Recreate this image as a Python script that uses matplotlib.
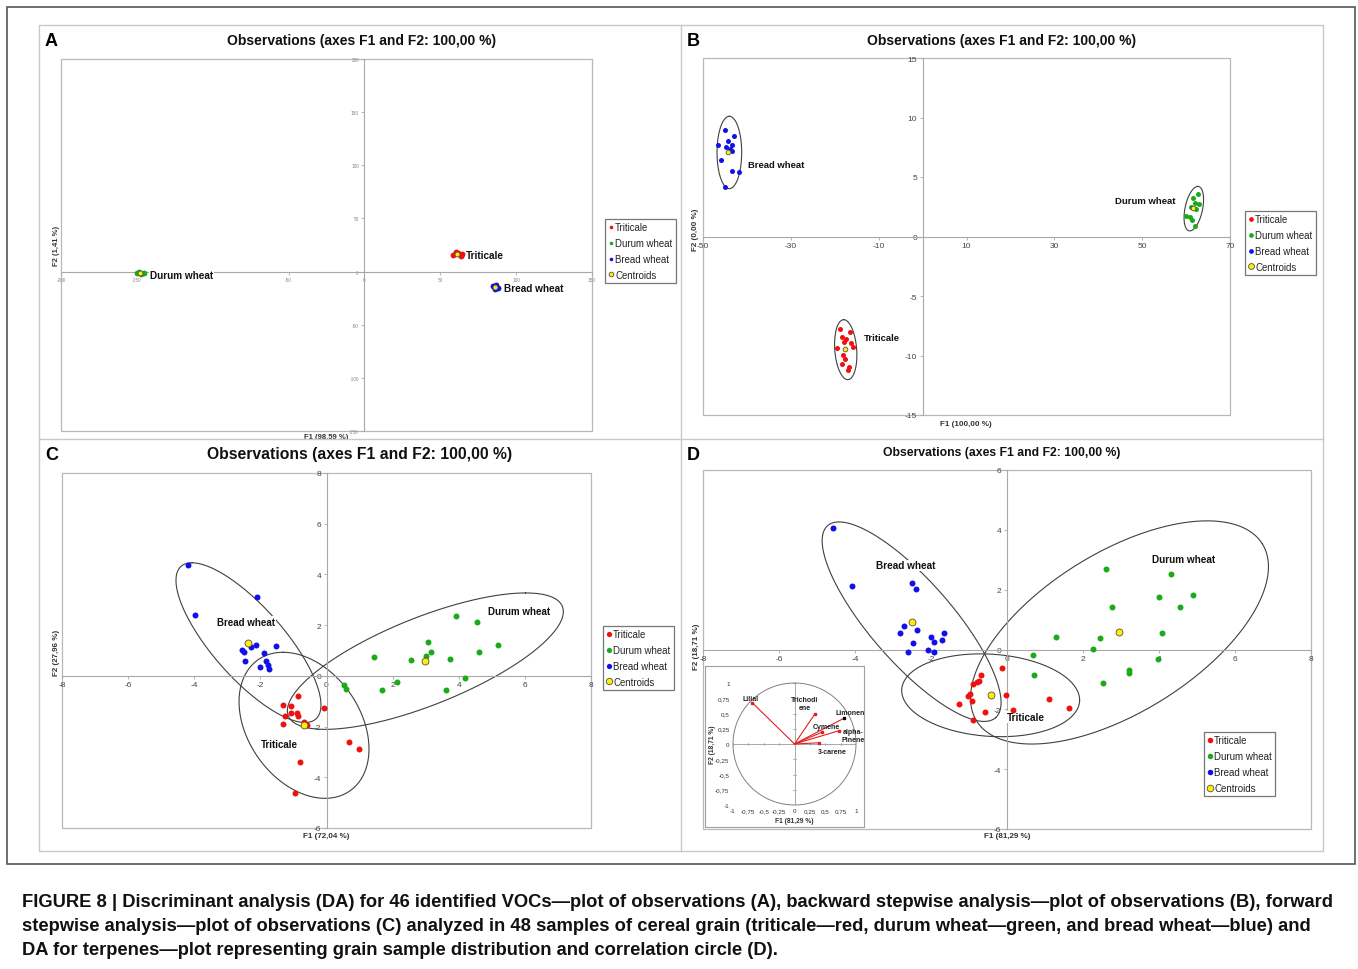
import numpy as np
import matplotlib
matplotlib.use('Agg')
import matplotlib.pyplot as plt
from matplotlib.patches import Rectangle, Circle
from matplotlib.lines import Line2D

plt.rcParams['font.family'] = ['Liberation Sans', 'DejaVu Sans']
plt.rcParams['axes.unicode_minus'] = False

## ---------------- data ----------------
groups = ['Triticale', 'Durum wheat', 'Bread wheat', 'Centroids']

# panel A (all 46 VOCs)
a_tri_x = [58.5, 60.5, 63.5, 62.0, 64.0]
a_tri_y = [16.0, 18.0, 15.0, 17.5, 16.5]
a_dur_x = [-150.0, -148.5, -145.5, -147.0]
a_dur_y = [-1.0, -0.5, -1.5, -2.0]
a_bre_x = [84.5, 86.5, 88.0, 86.0]
a_bre_y = [-14.0, -12.5, -15.0, -16.5]
a_cen_x = [61.3, -147.7, 86.3]
a_cen_y = [16.5, -1.2, -14.6]
a_xtick_labels = ['-200', '-150', '', '-50', '0', '50', '100', '150']   # -100 hidden under a label

# panel B (backward stepwise)
b_tri_x = [-18.7, -16.5, -18.3, -17.4, -18.0, -16.4, -15.9, -19.5, -18.1, -17.7, -18.4, -16.7, -17.0]
b_tri_y = [-7.78, -8.06, -8.48, -8.62, -8.90, -8.98, -9.32, -9.40, -9.96, -10.33, -10.72, -11.0, -11.2]
b_dur_x = [62.6, 61.6, 62.0, 62.9, 61.2, 62.3, 59.9, 60.9, 61.4, 62.0]
b_dur_y = [3.55, 3.27, 2.83, 2.77, 2.49, 2.35, 1.71, 1.60, 1.37, 0.87]
b_bre_x = [-44.9, -43.0, -46.5, -44.2, -43.4, -44.7, -43.9, -43.4, -45.9, -43.3, -41.8, -45.1]
b_bre_y = [8.98, 8.42, 7.72, 8.0, 7.72, 7.53, 7.39, 7.19, 6.41, 5.51, 5.43, 4.17]
b_cen_x = [-17.6, 61.6, -44.2]
b_cen_y = [-9.49, 2.41, 7.1]

# panel C (forward stepwise)
c_tri_x = [-0.86, -0.07, -1.31, -1.06, -1.06, -0.90, -1.25, -0.86, -0.68, -0.58, -1.32, 0.67, 0.99, -0.81, -0.96]
c_tri_y = [-0.80, -1.26, -1.13, -1.20, -1.46, -1.45, -1.59, -1.58, -1.81, -1.95, -1.91, -2.60, -2.89, -3.39, -4.60]
c_dur_x = [3.91, 4.56, 3.08, 5.18, 3.15, 3.02, 4.61, 1.44, 2.57, 3.75, 4.19, 2.12, 0.52, 0.58, 1.69, 3.60]
c_dur_y = [2.35, 2.12, 1.33, 1.22, 0.95, 0.79, 0.93, 0.74, 0.63, 0.68, -0.09, -0.24, -0.38, -0.53, -0.57, -0.57]
c_bre_x = [-4.19, -2.10, -3.98, -2.57, -2.50, -2.28, -2.13, -1.52, -1.89, -2.48, -1.83, -1.76, -2.01, -1.74]
c_bre_y = [4.36, 3.12, 2.39, 1.01, 0.95, 1.14, 1.21, 1.18, 0.91, 0.58, 0.58, 0.42, 0.34, 0.29]
c_cen_x = [-0.68, 2.99, -2.36]
c_cen_y = [-1.95, 0.58, 1.31]

# panel D (terpenes)
d_tri_x = [-0.68, -0.14, -0.89, -0.78, -0.73, -0.97, -1.02, -0.93, -1.26, -0.58, -0.89, -0.03, 0.17, 1.11, 1.63]
d_tri_y = [-0.85, -0.62, -1.15, -1.07, -1.05, -1.48, -1.56, -1.73, -1.81, -2.09, -2.35, -1.53, -2.03, -1.66, -1.95]
d_dur_x = [2.61, 4.31, 4.89, 4.00, 2.77, 4.54, 4.07, 1.30, 2.44, 2.27, 0.69, 3.98, 0.71, 3.20, 3.21, 2.52]
d_dur_y = [2.70, 2.54, 1.81, 1.75, 1.42, 1.43, 0.55, 0.43, 0.38, 0.02, -0.20, -0.31, -0.84, -0.69, -0.78, -1.11]
d_bre_x = [-4.59, -4.09, -2.51, -2.39, -2.71, -2.82, -2.36, -2.01, -1.65, -1.72, -1.91, -2.48, -2.60, -2.07, -1.91]
d_bre_y = [4.07, 2.12, 2.23, 2.03, 0.78, 0.54, 0.64, 0.41, 0.56, 0.33, 0.25, 0.22, -0.08, -0.02, -0.08]
d_cen_x = [-0.43, 2.96, -2.51]
d_cen_y = [-1.53, 0.57, 0.93]

# confidence ellipses: centre, two conjugate semi-diameters (data units)
b_ell = [((-17.5, -9.51), (-0.46, 2.52), (2.5, 0.0)),
         ((61.76, 2.34), (0.91, 1.87), (2.03, 0.0)),
         ((-44.0, 7.06), (0.0, 3.04), (2.81, 0.0))]
c_ell = [((-0.68, -1.95), (-0.635, 2.88), (1.86, 0.0)),
         ((2.99, 0.58), (3.03, 2.69), (2.87, 0.0)),
         ((-2.36, 1.31), (-1.71, 3.15), (1.373, 0.0))]
d_ell = [((-0.43, -1.53), (2.34, -0.2), (0.072, 1.37)),
         ((2.96, 0.57), (3.76, 2.96), (1.11, -2.27)),
         ((-2.51, 0.93), (2.21, -3.21), (0.811, 0.902))]

# correlation circle (panel D inset)
var_names = ['Lilial', 'Trichodi\nene', 'Limonen', 'Cymene', 'alpha-\nPinene', '3-carene']
var_f1 = [-0.69, 0.33, 0.80, 0.44, 0.73, 0.40]
var_f2 = [0.68, 0.49, 0.42, 0.19, 0.22, 0.02]
var_lab_x = [-0.72, 0.16, 0.90, 0.52, 0.95, 0.62]
var_lab_y = [0.74, 0.66, 0.52, 0.29, 0.14, -0.13]

caption = ["FIGURE 8 | Discriminant analysis (DA) for 46 identified VOCs\u2014plot of observations (A), backward stepwise analysis\u2014plot of observations (B), forward",
           "stepwise analysis\u2014plot of observations (C) analyzed in 48 samples of cereal grain (triticale\u2014red, durum wheat\u2014green, and bread wheat\u2014blue) and",
           "DA for terpenes\u2014plot representing grain sample distribution and correlation circle (D)."]

## ---------------- drawing ----------------
RED, GREEN, BLUE, YEL = '#f01010', '#1aaa1a', '#1010e8', '#ffee00'
W, H = 1358, 970
fig = plt.figure(figsize=(W / 100, H / 100), dpi=100)

def fbox(x0, y0, x1, y1):
    return [x0 / W, 1 - y1 / H, (x1 - x0) / W, (y1 - y0) / H]

def frect(x0, y0, x1, y1, **kw):
    fig.add_artist(Rectangle((x0 / W, 1 - y1 / H), (x1 - x0) / W, (y1 - y0) / H,
                             transform=fig.transFigure, **kw))

def fline(xs, ys, **kw):
    fig.add_artist(Line2D([x / W for x in xs], [1 - y / H for y in ys], transform=fig.transFigure, **kw))

def ftext(x, y, s, **kw):
    fig.text(x / W, 1 - y / H, s, **kw)

def style(ax, xlim, ylim, xt, yt, fs, lc):
    ax.set_xlim(xlim)
    ax.set_ylim(ylim)
    ax.spines[['top', 'right']].set_visible(False)
    for s in ['left', 'bottom']:
        ax.spines[s].set_position(('data', 0))
        ax.spines[s].set_color('#a8a8a8')
        ax.spines[s].set_linewidth(0.8)
    ax.set_xticks(xt)
    ax.set_yticks(yt)
    ax.tick_params(length=2.5, width=0.6, colors='#a8a8a8', labelsize=fs, labelcolor=lc, pad=1.5)
    ax.add_patch(Rectangle((0, 0), 1, 1, transform=ax.transAxes, fill=False,
                           ec='#b8b8b8', lw=0.9, clip_on=False, zorder=1))

def ellipse(ax, c, u, v):
    t = np.linspace(0, 2 * np.pi, 300)
    ax.plot(c[0] + u[0] * np.cos(t) + v[0] * np.sin(t),
            c[1] + u[1] * np.cos(t) + v[1] * np.sin(t), color='#404040', lw=0.8, zorder=2)

def points(ax, tx, ty, dx, dy, bx, by, cx, cy, ms, cms):
    ax.plot(tx, ty, 'o', color=RED, ms=ms, mec='none', zorder=4)
    ax.plot(dx, dy, 'o', color=GREEN, ms=ms, mec='none', zorder=4)
    ax.plot(bx, by, 'o', color=BLUE, ms=ms, mec='none', zorder=4)
    ax.plot(cx, cy, 'o', mfc=YEL, mec='#505050', mew=0.6, ms=cms, zorder=5)

def label(ax, x, y, s, fs, ha='center'):
    ax.text(x, y, s, fontsize=fs, fontweight='bold', ha=ha, va='center', color='#111111', zorder=3,
            bbox=dict(fc='white', ec='none', pad=0.6))

def legend(x0, y0, fs, ms):
    hs = [Line2D([], [], ls='', marker='o', color=RED, mec='none', ms=ms),
          Line2D([], [], ls='', marker='o', color=GREEN, mec='none', ms=ms),
          Line2D([], [], ls='', marker='o', color=BLUE, mec='none', ms=ms),
          Line2D([], [], ls='', marker='o', mfc=YEL, mec='#505050', mew=0.6, ms=ms + 0.8)]
    lg = fig.legend(hs, groups, loc='upper left', bbox_to_anchor=(x0 / W, 1 - y0 / H),
                    bbox_transform=fig.transFigure, fontsize=fs, frameon=True, fancybox=False,
                    edgecolor='#555555', handlelength=0.45, handletextpad=0.25, borderpad=0.35,
                    labelspacing=0.6, borderaxespad=0)
    lg.get_frame().set_linewidth(0.9)
    for t in lg.get_texts():
        t.set_color('#222222')

title = 'Observations (axes F1 and F2: 100,00 %)'

# ---- A ----
axA = fig.add_axes(fbox(61, 60, 592, 432))
style(axA, (-200, 150), (-150, 200), range(-200, 151, 50), range(-150, 201, 50), 3.4, '#888888')
axA.set_xticklabels(a_xtick_labels)
points(axA, a_tri_x, a_tri_y, a_dur_x, a_dur_y, a_bre_x, a_bre_y, a_cen_x, a_cen_y, 4.2, 3.6)
label(axA, -141.5, -3.3, 'Durum wheat', 7.2, 'left')
label(axA, 66.8, 15.8, 'Triticale', 7.2, 'left')
label(axA, 91.8, -15.5, 'Bread wheat', 7.2, 'left')
ftext(56, 246, 'F2 (1,41 %)', fontsize=5.5, fontweight='bold', rotation=90, ha='center', va='center', color='#333333')
ftext(326, 434, 'F1 (98,59 %)', fontsize=5.5, fontweight='bold', ha='center', va='top', color='#333333')

# ---- B ----
axB = fig.add_axes(fbox(703, 59, 1230, 416))
style(axB, (-50, 70), (-15, 15), range(-50, 71, 20), range(-15, 16, 5), 6, '#444444')
for e in b_ell:
    ellipse(axB, *e)
points(axB, b_tri_x, b_tri_y, b_dur_x, b_dur_y, b_bre_x, b_bre_y, b_cen_x, b_cen_y, 3.6, 3.4)
label(axB, -39.7, 6.07, 'Bread wheat', 6.8, 'left')
label(axB, 57.6, 3.0, 'Durum wheat', 6.8, 'right')
label(axB, -13.4, -8.48, 'Triticale', 6.8, 'left')
ftext(696, 230, 'F2 (0,00 %)', fontsize=5.8, fontweight='bold', rotation=90, ha='center', va='center', color='#333333')
ftext(966, 424, 'F1 (100,00 %)', fontsize=5.8, fontweight='bold', ha='center', va='center', color='#333333')

# ---- C ----
axC = fig.add_axes(fbox(62, 474, 591, 829))
style(axC, (-8, 8), (-6, 8), range(-8, 9, 2), range(-6, 9, 2), 6, '#444444')
for e in c_ell:
    ellipse(axC, *e)
points(axC, c_tri_x, c_tri_y, c_dur_x, c_dur_y, c_bre_x, c_bre_y, c_cen_x, c_cen_y, 4.3, 5.0)
label(axC, -2.44, 2.13, 'Bread wheat', 7.0)
label(axC, 5.82, 2.55, 'Durum wheat', 7.0)
label(axC, -1.42, -2.69, 'Triticale', 7.0)
ftext(56, 653, 'F2 (27,96 %)', fontsize=5.8, fontweight='bold', rotation=90, ha='center', va='center', color='#333333')
ftext(326, 837, 'F1 (72,04 %)', fontsize=5.8, fontweight='bold', ha='center', va='center', color='#333333')

# ---- D ----
axD = fig.add_axes(fbox(703, 471, 1311, 830))
style(axD, (-8, 8), (-6, 6), range(-8, 9, 2), range(-6, 7, 2), 6, '#444444')
for e in d_ell:
    ellipse(axD, *e)
points(axD, d_tri_x, d_tri_y, d_dur_x, d_dur_y, d_bre_x, d_bre_y, d_cen_x, d_cen_y, 4.3, 5.0)
label(axD, -2.66, 2.81, 'Bread wheat', 7.2)
label(axD, 4.64, 3.01, 'Durum wheat', 7.2)
label(axD, 0.49, -2.26, 'Triticale', 7.2)
ftext(697, 647, 'F2 (18,71 %)', fontsize=5.8, fontweight='bold', rotation=90, ha='center', va='center', color='#333333')
ftext(1007, 837, 'F1 (81,29 %)', fontsize=5.8, fontweight='bold', ha='center', va='center', color='#333333')

# inset: correlation circle
axBg = fig.add_axes(fbox(705, 667, 864, 828), zorder=5)
axBg.set_xticks([])
axBg.set_yticks([])
for s in axBg.spines.values():
    s.set_color('#a0a0a0')
    s.set_linewidth(0.8)
ctk = [-1, -0.75, -0.5, -0.25, 0, 0.25, 0.5, 0.75, 1]
ctl = ['-1', '-0,75', '-0,5', '-0,25', '0', '0,25', '0,5', '0,75', '1']
axI = fig.add_axes(fbox(733, 684, 856, 806), zorder=6)
axI.patch.set_alpha(0)
axI.set_xlim(-1, 1)
axI.set_ylim(-1, 1)
for s in axI.spines.values():
    s.set_visible(False)
axI.set_xticks(ctk)
axI.set_xticklabels(ctl)
axI.set_yticks(ctk)
axI.set_yticklabels(ctl)
axI.tick_params(length=0, labelsize=4.5, labelcolor='#333333', pad=2.5)
axI.axhline(0, color='#a8a8a8', lw=0.7, zorder=1)
axI.axvline(0, color='#a8a8a8', lw=0.7, zorder=1)
for v in ctk:
    axI.plot([v, v], [-0.02, 0.02], color='#a8a8a8', lw=0.6, zorder=1)
    axI.plot([-0.02, 0.02], [v, v], color='#a8a8a8', lw=0.6, zorder=1)
axI.add_patch(Circle((0, 0), 1, fill=False, ec='#808080', lw=0.7, clip_on=False))
for i in range(len(var_names)):
    axI.plot([0, var_f1[i]], [0, var_f2[i]], color='#e02020', lw=0.8, zorder=3)
    axI.plot(var_f1[i], var_f2[i], 's', color='#000000' if var_names[i] == 'Limonen' else '#e02020',
             ms=1.6, zorder=4)
    axI.text(var_lab_x[i], var_lab_y[i], var_names[i], fontsize=5, fontweight='bold', ha='center',
             va='center', color='#222222', linespacing=1.1, zorder=5)
ftext(794, 822, 'F1 (81,29 %)', fontsize=4.8, fontweight='bold', ha='center', va='center', color='#333333', zorder=7)
ftext(712, 745, 'F2 (18,71 %)', fontsize=4.8, fontweight='bold', rotation=90, ha='center', va='center', color='#333333', zorder=7)

# titles, letters, legends
ftext(362, 41, title, fontsize=10.0, fontweight='bold', ha='center', va='center', color='#111111')
ftext(1002, 41, title, fontsize=10.0, fontweight='bold', ha='center', va='center', color='#111111')
ftext(360, 455, title, fontsize=11.3, fontweight='bold', ha='center', va='center', color='#111111')
ftext(1002, 453, title, fontsize=8.8, fontweight='bold', ha='center', va='center', color='#111111')
for lt, (lx, ly) in zip('ABCD', [(45, 42), (687, 42), (45, 455), (687, 455)]):
    ftext(lx, ly, lt, fontsize=13, fontweight='bold', ha='left', va='center', color='#000000')
legend(605, 220, 6.9, 2.6)
legend(1245, 212, 6.9, 3.4)
legend(603, 627, 6.9, 3.8)
legend(1204, 733, 7.0, 4.0)

# frames (white strip cuts the F1 label of panel A)
frect(40, 440.5, 680, 445, fc='white', ec='none', zorder=8)
frect(7, 8, 1355, 865, fill=False, ec='#555555', lw=1.2, zorder=9)
frect(39, 26, 1323, 852, fill=False, ec='#c8c8c8', lw=1.0, zorder=9)
fline([681, 681], [26, 852], color='#c8c8c8', lw=1.0, zorder=9)
fline([39, 1323], [440, 440], color='#c8c8c8', lw=1.0, zorder=9)

for i, line in enumerate(caption):
    ftext(22, 903 + 24 * i, line, fontsize=13.2, fontweight='bold', ha='left', va='center',
          color='#111111', family=['Liberation Sans Narrow', 'Liberation Sans', 'DejaVu Sans'])

fig.savefig('out.png', dpi=100)
